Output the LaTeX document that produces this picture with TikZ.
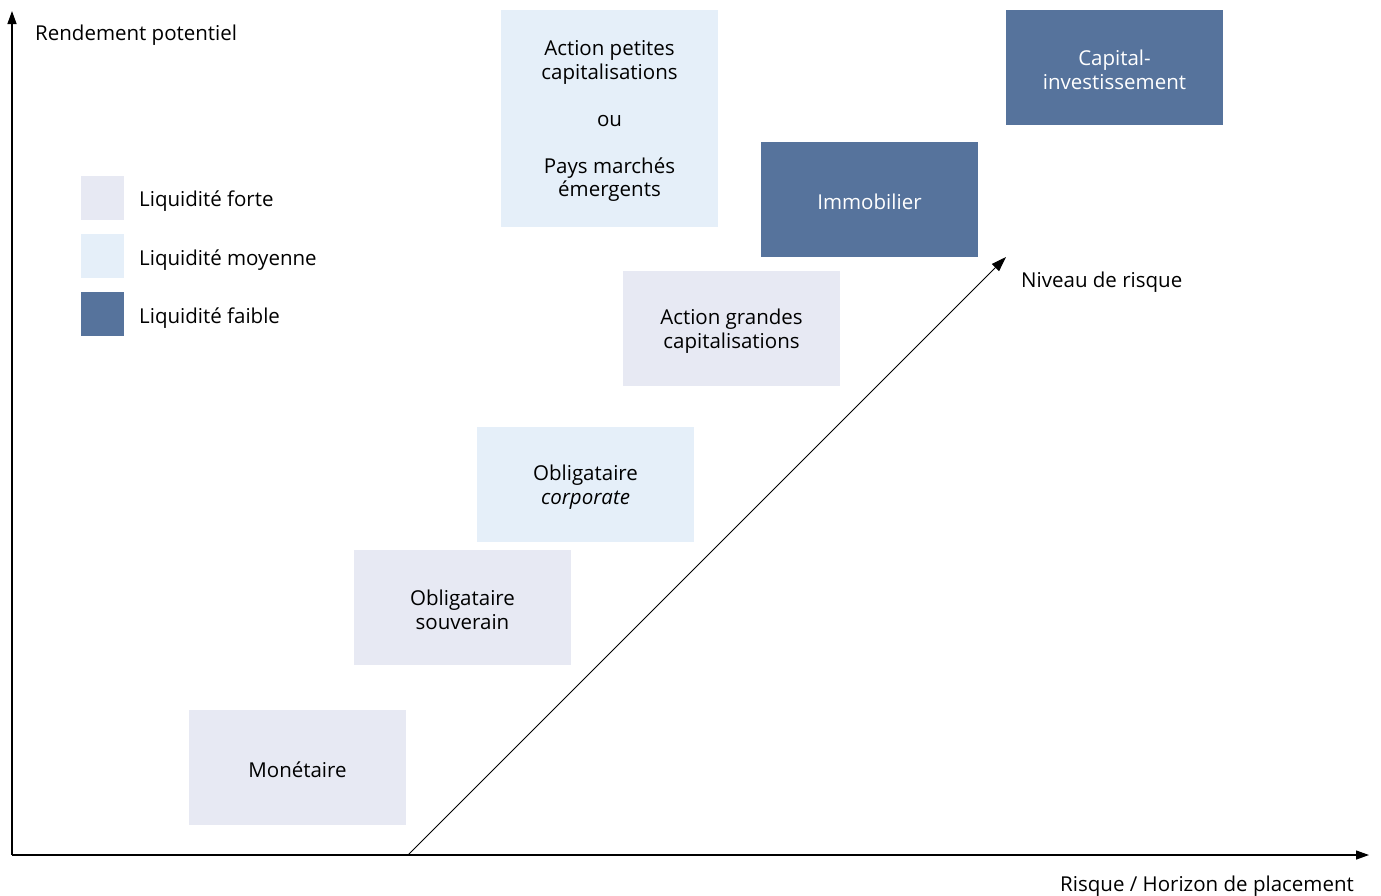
\documentclass[tikz,border=0pt]{standalone}
\usepackage{fontspec}
\setmainfont{Open Sans}
\usetikzlibrary{arrows.meta}
\definecolor{forte}{HTML}{E7E9F3}
\definecolor{moyenne}{HTML}{E5EFF9}
\definecolor{faible}{HTML}{56739C}
\newcommand{\fnt}{\fontsize{20.5}{23.5}\selectfont}
\tikzset{
  box/.style={minimum width=217pt, minimum height=115pt, inner sep=0pt, align=center, font=\fnt, anchor=north west},
  leg/.style={minimum width=43pt, minimum height=44pt, inner sep=0pt, anchor=north west},
  lbl/.style={font=\fnt, inner sep=0pt},
  axis/.style={line width=1.3pt, -{Triangle[length=13pt,width=9pt]}},
}
\begin{document}
\begin{tikzpicture}[x=1pt,y=-1pt]
\useasboundingbox (0,0) rectangle (1381,895);
% axes
\coordinate (O) at (12,855);
\coordinate (ytop) at (12,11);
\coordinate (xend) at (1369,855);
\draw[axis] (O) -- (ytop);
\draw[axis] (O) -- (xend);
\coordinate (dstart) at (408,855);
\coordinate (dend) at (1006,257);
\draw[line width=1pt, -{Triangle[length=15pt,width=10pt]}] (dstart) -- (dend);
% boxes
\fill[forte] (189,710) rectangle (406,825);
\fill[forte] (354,550) rectangle (571,665);
\fill[moyenne] (477,427) rectangle (694,542);
\fill[forte] (623,271) rectangle (840,386);
\fill[moyenne] (501,10) rectangle (718,227);
\fill[faible] (761,142) rectangle (978,257);
\fill[faible] (1006,10) rectangle (1223,125);
\node[lbl, align=center] (mon) at (297.5,770) {Monétaire};
\node[lbl, align=center] (souv) at (462.5,610) {Obligataire\\souverain};
\node[lbl, align=center] (corp) at (585.5,487) {Obligataire\\\textit{corporate}};
\node[lbl, align=center] (grand) at (731.5,331) {Action grandes\\capitalisations};
\node[lbl, align=center] (petit) at (609.5,121) {Action petites\\capitalisations\\[23.5pt]ou\\[23.5pt]Pays marchés\\émergents};
\node[lbl, align=center, text=white] (immo) at (869.5,202) {Immobilier};
\node[lbl, align=center, text=white] (capi) at (1114.5,70) {Capital-\\investissement};
% legend
\fill[forte] (81,176) rectangle (124,220);
\fill[moyenne] (81,234) rectangle (124,278);
\fill[faible] (81,292) rectangle (124,336);
\node[lbl, anchor=west] (t1) at (139,201) {Liquidité forte};
\node[lbl, anchor=west] (t2) at (139,260) {Liquidité moyenne};
\node[lbl, anchor=west] (t3) at (139,318) {Liquidité faible};
% labels
\node[lbl, anchor=west] (rend) at (35,35) {Rendement potentiel};
\node[lbl, anchor=west] (niv) at (1021,282) {Niveau de risque};
\node[lbl, anchor=east] (risq) at (1354,886) {Risque / Horizon de placement};
\end{tikzpicture}
\end{document}
